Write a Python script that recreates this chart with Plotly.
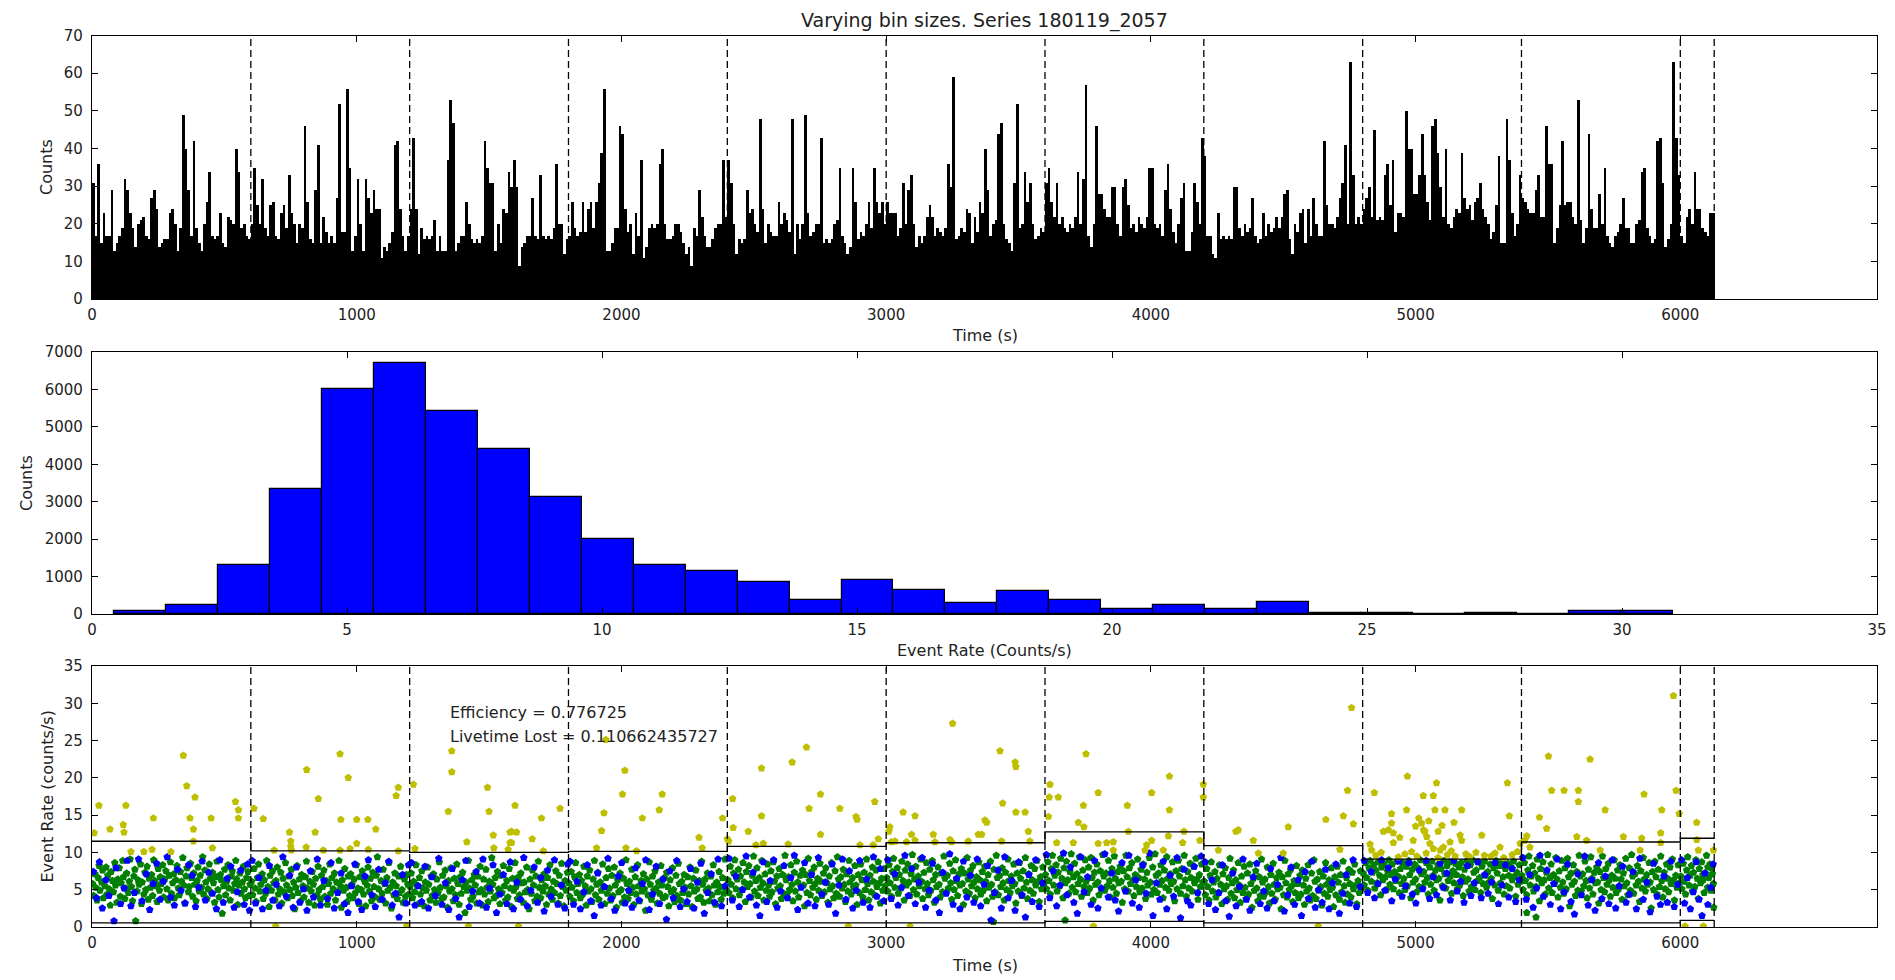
import numpy as np
import plotly.graph_objects as go

W, H = 1895, 980

# ---------------- data ----------------
title_text = "Varying bin sizes. Series 180119_2057"
top_bin_s = 10
top_counts = [
31,17,36,15,23,17,17,29,13,15,17,19,32,29,23,19,14,20,21,22,
17,16,27,29,24,14,15,16,16,23,24,20,13,19,49,40,29,17,42,19,
15,13,20,26,34,17,16,17,23,15,14,22,21,20,40,34,19,20,17,16,
20,35,25,20,32,19,17,25,26,17,16,23,25,19,33,23,20,15,20,19,
46,26,16,15,29,41,15,22,18,15,17,15,27,52,18,18,56,35,13,17,
32,20,13,32,27,23,29,24,24,11,14,13,15,18,41,42,24,17,13,17,
24,43,24,12,19,16,17,16,17,21,13,17,13,13,37,53,47,13,15,17,
17,26,20,16,15,16,15,17,42,35,31,31,13,20,15,24,23,34,30,37,
30,9,14,15,17,17,27,17,16,33,17,16,17,16,19,36,20,20,12,16,
17,26,19,17,18,26,18,24,26,19,26,31,39,56,13,13,15,19,19,46,
44,24,18,20,12,23,17,37,11,14,19,20,19,20,36,40,20,16,16,17,
20,20,18,15,12,14,9,19,17,29,22,17,14,14,16,19,20,20,37,22,
37,31,20,12,16,15,16,29,23,24,20,18,48,24,15,20,18,17,17,26,
20,23,21,18,48,12,20,16,20,49,23,17,18,20,20,43,15,16,15,16,
20,21,35,17,15,12,14,35,26,16,18,17,20,26,19,35,26,23,26,20,
26,23,23,23,17,19,31,20,29,33,20,14,17,15,17,22,25,22,17,19,
18,17,19,36,30,59,16,17,19,18,24,23,15,22,18,26,23,40,29,17,
20,21,44,47,20,16,15,13,31,52,19,20,34,26,31,20,16,17,19,18,
31,35,26,22,31,20,22,19,18,20,19,22,34,20,32,57,17,14,20,46,
28,28,24,22,22,30,30,20,17,30,32,25,19,20,18,22,20,19,22,35,
35,20,19,20,17,29,36,24,18,15,20,27,31,13,13,18,31,26,20,43,
38,17,17,12,11,23,16,17,16,17,16,30,30,19,17,20,18,19,27,17,
15,16,23,17,20,18,19,22,19,22,28,29,16,12,20,18,23,24,15,24,
17,27,20,17,17,42,25,20,20,19,22,27,31,41,20,63,33,20,22,20,
24,27,30,22,45,21,22,21,33,36,25,37,18,23,23,22,50,40,40,28,
28,33,44,33,26,21,46,48,39,30,22,40,20,19,22,24,23,39,27,24,
25,21,26,27,31,24,22,20,16,18,25,38,15,15,48,37,23,17,20,33,
27,26,24,23,23,29,33,22,22,46,36,36,15,19,25,42,25,26,26,22,
20,53,21,15,19,44,24,19,19,28,20,35,17,15,14,17,18,20,27,19,
19,15,15,20,21,34,35,19,17,15,16,42,43,31,14,16,20,63,43,33,
17,15,22,24,20,34,24,24,19,18,17,23,23]

seg_edges = [0, 600, 1200, 1800, 2400, 3000, 3600, 4200, 4800, 5400, 6000, 6128]
upper_thr = [11.5, 10.2, 10.0, 10.15, 10.8, 11.3, 12.75, 10.9, 9.1, 11.4, 11.9]
lower_thr = [0.55, 0.55, 0.55, 0.55, 0.55, 0.55, 0.75, 0.55, 0.55, 0.55, 0.9]
time_max = 6743

hist_lo, hist_width = 0.43, 1.019
hist_counts = [80, 250, 1320, 3330, 6010, 6700, 5420, 4400, 3120, 2010, 1320, 1150,
               850, 380, 900, 640, 300, 610, 364, 142, 230, 142, 310, 40, 40, 0, 40, 0, 80, 80]

eff_text = "Efficiency = 0.776725"
live_text = "Livetime Lost = 0.110662435727"

green_pts = [
(2,5.8),(6,4.2),(11,7.1),(14,5.3),(19,3.6),(23,6.6),(27,8.2),(30,4.9),(36,6.0),(40,7.6),(43,3.9),(48,5.5),(53,8.0),(57,4.4),(60,6.9),(65,5.1),(69,2.9),(72,7.4),(77,6.2),(81,4.7),(86,8.6),(89,5.6),(94,3.3),(97,6.4),(103,7.9),(107,4.1),(110,5.9),(116,8.9),(119,6.7),(124,3.8),(128,5.2),(131,7.2),(137,4.6),(141,6.1),(144,9.1),(149,5.4),(153,3.5),(158,6.8),(162,7.7),(165,0.8),(170,4.8),(174,6.3),(178,5.7),(183,8.4),(187,3.1),(190,6.0),(196,4.4),(200,7.3),(203,5.0),(208,8.1),(213,3.7),(216,6.5),(221,5.3),(225,7.0),(229,4.2),(233,9.0),(238,6.2),(241,5.5),(246,3.4),(250,7.8),(255,4.9),(258,6.7),(262,5.8),(267,8.3),(271,4.0),(275,6.4),(279,7.5),(283,5.1),(288,3.6),(292,6.9),(296,8.7),(300,4.5),(305,5.9),(309,7.1),(312,3.9),(317,6.3),(321,8.2),(326,5.2),(330,4.3),(334,7.4),(338,6.1),(343,9.3),(347,5.6),(350,3.2),(355,6.8),(359,7.9),(364,4.7),(367,5.4),(372,8.5),(376,6.6),(380,4.1),(384,7.2),(388,5.7),(393,3.5),(397,6.2),(400,8.0),(405,4.8),(409,6.9),(413,5.3),(418,9.4),(421,4.4),(426,7.6),(430,6.0),(434,3.8),(438,5.1),(443,8.4),(447,6.5),(451,4.6),(455,7.3),(459,5.9),(463,3.3),(468,6.7),(472,8.8),(476,5.0),(480,4.0),(485,7.0),(488,6.3),(492,1.8),(497,5.5),(501,7.7),(505,4.3),(509,6.1),(514,8.3),(517,5.2),(522,3.6),(526,6.8),(530,7.5),(534,4.9),(539,5.8),(543,8.9),(546,6.4),(551,3.0),(555,5.6),(559,7.2),(563,4.5),(568,6.0),(572,8.1),(576,5.1),(580,3.9),(584,6.6),(589,7.4),(593,4.2),(597,5.7),
(603,6.1),(607,4.3),(612,7.8),(616,5.2),(620,3.4),(625,6.6),(629,8.4),(634,4.8),(638,5.7),(643,7.1),(647,3.8),(651,6.3),(656,4.5),(660,8.9),(665,5.4),(669,2.7),(673,6.9),(678,4.9),(682,7.5),(687,5.9),(691,3.6),(695,6.2),(700,8.0),(704,4.4),(709,5.1),(713,7.3),(717,3.2),(722,6.5),(726,4.7),(731,8.6),(735,5.6),(740,3.9),(744,6.8),(748,5.0),(753,7.7),(757,4.2),(762,6.0),(766,2.4),(770,5.3),(775,8.2),(779,4.6),(784,6.4),(788,3.5),(792,7.0),(797,5.5),(801,4.0),(806,6.7),(810,8.8),(814,5.2),(819,3.3),(823,6.1),(828,4.8),(832,7.4),(836,5.7),(841,2.9),(845,6.5),(850,4.3),(854,8.1),(858,5.0),(863,3.7),(867,6.9),(872,5.4),(876,7.6),(880,4.1),(885,6.2),(889,3.0),(894,5.8),(898,8.4),(902,4.5),(907,6.6),(911,5.1),(916,7.2),(920,3.6),(924,6.0),(929,4.7),(933,8.9),(938,5.5),(942,2.6),(946,6.3),(951,4.9),(955,7.8),(960,5.3),(964,3.4),(968,6.8),(973,4.2),(977,7.1),(982,5.7),(986,3.9),(990,6.4),(995,4.6),(999,8.3),(1004,5.2),(1008,3.1),(1012,6.7),(1017,5.0),(1021,7.5),(1026,4.4),(1030,6.1),(1034,2.8),(1039,5.6),(1043,8.0),(1048,4.8),(1052,6.5),(1056,3.5),(1061,7.3),(1065,5.4),(1070,4.0),(1074,6.9),(1078,9.4),(1083,5.1),(1087,3.7),(1092,6.2),(1096,4.5),(1100,7.7),(1105,5.8),(1109,3.2),(1114,6.6),(1118,4.9),(1122,8.6),(1127,5.3),(1131,2.5),(1136,6.0),(1140,4.3),(1144,7.2),(1149,5.5),(1153,3.8),(1158,6.8),(1162,4.6),(1166,8.1),(1171,5.0),(1175,3.3),(1180,6.4),(1184,4.1),(1188,7.0),(1193,5.7),(1197,4.4),
(1202,5.4),(1206,7.2),(1211,3.9),(1215,6.1),(1219,4.7),(1224,8.3),(1228,5.6),(1233,3.1),(1237,6.6),(1241,4.4),(1246,7.5),(1250,5.2),(1255,2.8),(1259,6.0),(1263,4.9),(1268,8.0),(1272,5.7),(1277,3.6),(1281,6.8),(1285,4.2),(1290,7.1),(1294,5.0),(1299,3.3),(1303,6.4),(1307,4.6),(1312,8.7),(1316,5.3),(1321,3.8),(1325,6.9),(1329,4.0),(1334,7.6),(1338,5.5),(1343,2.6),(1347,6.2),(1351,4.8),(1356,7.9),(1360,5.1),(1365,3.5),(1369,6.5),(1373,4.3),(1378,8.4),(1382,5.8),(1387,3.0),(1391,6.7),(1395,4.5),(1400,7.3),(1404,5.4),(1409,1.9),(1413,6.0),(1417,4.9),(1422,8.9),(1426,5.2),(1431,3.7),(1435,6.3),(1439,4.1),(1444,7.0),(1448,5.6),(1453,3.2),(1457,6.8),(1461,4.7),(1466,8.1),(1470,5.0),(1475,2.9),(1479,6.4),(1483,4.4),(1488,7.7),(1492,5.3),(1497,3.4),(1501,6.1),(1505,4.8),(1510,9.3),(1514,5.7),(1519,3.9),(1523,6.6),(1527,4.2),(1532,7.4),(1536,5.1),(1541,3.1),(1545,6.9),(1549,4.6),(1554,8.2),(1558,5.5),(1563,3.6),(1567,6.2),(1571,4.0),(1576,7.8),(1580,5.2),(1585,2.7),(1589,6.5),(1593,4.9),(1598,8.6),(1602,5.4),(1607,3.8),(1611,6.7),(1615,4.3),(1620,7.2),(1624,5.9),(1629,3.3),(1633,6.0),(1637,4.7),(1642,8.0),(1646,5.0),(1651,2.4),(1655,6.4),(1659,4.5),(1664,7.6),(1668,5.6),(1673,3.5),(1677,6.8),(1681,4.1),(1686,8.8),(1690,5.3),(1695,3.9),(1699,6.3),(1703,4.8),(1708,7.1),(1712,5.5),(1717,3.0),(1721,6.6),(1725,4.4),(1730,8.3),(1734,5.1),(1739,3.7),(1743,6.1),(1747,4.6),(1752,7.5),(1756,5.8),(1761,3.2),(1765,6.9),(1769,4.2),(1774,8.5),(1778,5.4),(1783,2.8),(1787,6.2),(1791,4.9),(1796,7.3),
(1801,5.9),(1805,4.1),(1810,7.4),(1814,5.3),(1819,3.5),(1823,6.7),(1827,8.6),(1832,4.6),(1836,5.8),(1841,7.0),(1845,3.9),(1849,6.2),(1854,4.4),(1858,8.1),(1863,5.5),(1867,2.9),(1871,6.8),(1876,4.8),(1880,7.6),(1885,5.1),(1889,3.4),(1893,6.4),(1898,8.9),(1902,4.3),(1907,5.7),(1911,7.3),(1915,3.7),(1920,6.0),(1924,4.9),(1929,8.4),(1933,5.4),(1937,3.1),(1942,6.6),(1946,4.5),(1951,7.8),(1955,5.2),(1959,3.6),(1964,6.9),(1968,4.2),(1973,8.0),(1977,5.6),(1981,2.6),(1986,6.3),(1990,4.7),(1995,7.2),(1999,5.0),(2003,3.3),(2008,6.5),(2012,4.0),(2017,9.0),(2021,5.8),(2025,3.8),(2030,6.1),(2034,4.6),(2039,7.7),(2043,5.3),(2047,3.0),(2052,6.7),(2056,4.4),(2061,8.3),(2065,5.5),(2069,3.5),(2074,6.2),(2078,4.8),(2083,7.1),(2087,5.1),(2091,2.2),(2096,6.4),(2100,4.3),(2105,8.7),(2109,5.7),(2113,3.7),(2118,6.8),(2122,4.9),(2127,7.5),(2131,5.2),(2135,3.2),(2140,6.0),(2144,4.5),(2149,8.2),(2153,5.6),(2157,3.9),(2162,6.6),(2166,4.1),(2171,7.3),(2175,5.4),(2179,2.8),(2184,6.3),(2188,4.7),(2193,7.9),(2197,5.0),(2201,3.4),(2206,6.9),(2210,4.2),(2215,8.5),(2219,5.8),(2223,3.6),(2228,6.1),(2232,4.6),(2237,7.0),(2241,5.3),(2245,3.1),(2250,6.7),(2254,4.4),(2259,8.0),(2263,5.5),(2267,2.7),(2272,6.5),(2276,4.8),(2281,7.6),(2285,5.1),(2289,3.8),(2294,6.2),(2298,4.0),(2303,8.8),(2307,5.7),(2311,3.3),(2316,6.4),(2320,4.9),(2325,7.2),(2329,5.2),(2333,3.5),(2338,6.8),(2342,4.3),(2347,8.3),(2351,5.6),(2355,3.0),(2360,6.0),(2364,4.7),(2369,7.4),(2373,5.4),(2377,3.7),(2382,6.6),(2386,4.5),(2391,9.1),(2395,5.0),
(2402,6.3),(2406,4.6),(2411,8.1),(2415,5.7),(2420,3.9),(2424,7.2),(2428,9.0),(2433,5.1),(2437,6.4),(2442,7.7),(2446,4.3),(2450,6.8),(2455,5.0),(2459,8.6),(2464,6.0),(2468,3.4),(2472,7.4),(2477,5.4),(2481,8.2),(2486,5.8),(2490,4.0),(2494,6.9),(2499,9.5),(2503,4.8),(2508,6.2),(2512,7.9),(2516,4.2),(2521,6.6),(2525,5.3),(2530,8.9),(2534,5.9),(2538,3.6),(2543,7.1),(2547,4.9),(2552,8.4),(2556,5.6),(2560,4.1),(2565,7.5),(2569,4.7),(2574,8.7),(2578,6.1),(2582,3.1),(2587,6.8),(2591,5.2),(2596,7.8),(2600,5.5),(2604,3.8),(2609,7.0),(2613,4.5),(2618,9.6),(2622,6.3),(2626,4.4),(2631,6.7),(2635,5.0),(2640,8.3),(2644,5.7),(2648,3.5),(2653,7.3),(2657,4.8),(2662,8.8),(2666,6.0),(2670,4.0),(2675,6.9),(2679,5.4),(2684,7.6),(2688,5.6),(2692,2.8),(2697,7.0),(2701,4.6),(2706,9.2),(2710,6.2),(2714,4.3),(2719,7.4),(2723,5.3),(2728,8.0),(2732,5.8),(2736,3.7),(2741,6.5),(2745,4.9),(2750,8.5),(2754,6.1),(2758,4.2),(2763,7.2),(2767,4.7),(2772,7.9),(2776,5.9),(2780,3.3),(2785,6.8),(2789,5.1),(2794,8.6),(2798,5.5),(2802,3.9),(2807,7.5),(2811,4.5),(2816,9.4),(2820,6.4),(2824,4.1),(2829,6.7),(2833,5.2),(2838,7.7),(2842,5.7),(2846,3.4),(2851,7.1),(2855,4.8),(2860,8.9),(2864,6.0),(2868,4.4),(2873,6.6),(2877,5.3),(2882,8.2),(2886,5.6),(2890,3.0),(2895,7.0),(2899,4.6),(2904,8.4),(2908,6.3),(2912,4.0),(2917,7.3),(2921,5.0),(2926,9.1),(2930,5.8),(2934,3.6),(2939,6.9),(2943,4.7),(2948,8.0),(2952,6.1),(2956,4.3),(2961,7.6),(2965,5.4),(2970,8.7),(2974,5.9),(2978,3.2),(2983,6.5),(2987,4.9),(2992,7.8),(2996,5.5),
(3002,6.6),(3006,4.8),(3011,8.3),(3015,5.9),(3020,4.1),(3024,7.4),(3028,9.2),(3033,5.3),(3037,6.6),(3042,7.9),(3046,4.5),(3050,7.0),(3055,5.2),(3059,8.8),(3064,6.2),(3068,3.6),(3072,7.6),(3077,5.6),(3081,8.4),(3086,6.0),(3090,4.2),(3094,7.1),(3099,9.7),(3103,5.0),(3108,6.4),(3112,8.1),(3116,4.4),(3121,6.8),(3125,5.5),(3130,9.1),(3134,6.1),(3138,3.8),(3143,7.3),(3147,5.1),(3152,8.6),(3156,5.8),(3160,4.3),(3165,7.7),(3169,4.9),(3174,8.9),(3178,6.3),(3182,3.3),(3187,7.0),(3191,5.4),(3196,8.0),(3200,5.7),(3204,4.0),(3209,7.2),(3213,4.7),(3218,9.5),(3222,6.5),(3226,4.6),(3231,6.9),(3235,5.2),(3240,8.5),(3244,5.9),(3248,3.7),(3253,7.5),(3257,5.0),(3262,9.0),(3266,6.2),(3270,4.2),(3275,7.1),(3279,5.6),(3284,7.8),(3288,5.8),(3292,3.0),(3297,7.2),(3301,4.8),(3306,9.3),(3310,6.4),(3314,4.5),(3319,7.6),(3323,5.5),(3328,8.2),(3332,6.0),(3336,3.9),(3341,6.7),(3345,5.1),(3350,8.7),(3354,6.3),(3358,4.4),(3363,7.4),(3367,4.9),(3372,8.1),(3376,6.1),(3380,3.5),(3385,7.0),(3389,5.3),(3394,8.8),(3398,5.7),(3402,4.1),(3405,0.7),(3407,7.7),(3411,4.7),(3416,9.6),(3420,6.6),(3424,4.3),(3429,6.9),(3433,5.4),(3438,7.9),(3442,5.9),(3446,3.6),(3451,7.3),(3455,5.0),(3460,9.1),(3464,6.2),(3468,4.6),(3473,6.8),(3477,5.5),(3482,8.4),(3486,5.8),(3490,3.2),(3495,7.2),(3499,4.8),(3504,8.6),(3508,6.5),(3512,4.2),(3517,7.5),(3521,5.2),(3526,9.3),(3530,6.0),(3534,3.8),(3539,7.1),(3543,4.9),(3548,8.2),(3552,6.3),(3556,4.5),(3561,7.8),(3565,5.6),(3570,8.9),(3574,6.1),(3578,3.4),(3583,6.7),(3587,5.1),(3592,8.0),(3596,5.7),
(3602,7.0),(3606,5.1),(3611,8.7),(3615,6.2),(3620,4.4),(3624,7.8),(3628,9.6),(3633,5.6),(3637,6.9),(3642,8.3),(3646,4.8),(3650,7.3),(3655,5.5),(3659,9.2),(3664,6.5),(3668,3.9),(3672,7.9),(3676,0.9),(3677,5.9),(3681,8.8),(3686,6.3),(3690,4.5),(3694,7.4),(3699,9.8),(3703,5.3),(3708,6.7),(3712,8.5),(3716,4.7),(3721,7.1),(3725,5.8),(3730,9.4),(3734,6.4),(3738,4.1),(3743,7.6),(3747,5.4),(3752,9.0),(3756,6.1),(3760,4.6),(3765,8.0),(3769,5.2),(3774,9.3),(3778,6.6),(3782,3.6),(3787,7.3),(3791,5.7),(3796,8.4),(3800,6.0),(3804,4.3),(3809,7.5),(3813,5.0),(3818,9.7),(3822,6.8),(3826,4.9),(3831,7.2),(3835,5.5),(3840,8.9),(3844,6.2),(3848,4.0),(3853,7.8),(3857,5.3),(3862,9.5),(3866,6.5),(3870,4.5),(3875,7.4),(3879,5.9),(3884,8.1),(3888,6.1),(3892,3.3),(3897,7.5),(3901,5.1),(3906,9.6),(3910,6.7),(3914,4.8),(3919,7.9),(3923,5.8),(3928,8.6),(3932,6.3),(3936,4.2),(3941,7.0),(3945,5.4),(3950,9.1),(3954,6.6),(3958,4.7),(3963,7.7),(3967,5.2),(3972,8.4),(3976,6.4),(3980,3.8),(3985,7.3),(3989,5.6),(3994,9.3),(3998,6.0),(4002,4.4),(4007,8.0),(4011,5.0),(4016,9.8),(4020,6.9),(4024,4.6),(4029,7.2),(4033,5.7),(4038,8.3),(4042,6.2),(4046,3.9),(4051,7.6),(4055,5.3),(4060,9.4),(4064,6.5),(4068,4.9),(4073,7.1),(4077,5.8),(4082,8.7),(4086,6.1),(4090,3.5),(4095,7.5),(4099,5.1),(4104,8.9),(4108,6.8),(4112,4.5),(4117,7.8),(4121,5.5),(4126,9.6),(4130,6.3),(4134,4.1),(4139,7.4),(4143,5.2),(4148,8.5),(4152,6.6),(4156,4.8),(4161,8.1),(4165,5.9),(4170,9.2),(4174,6.4),(4178,3.7),(4183,7.0),(4187,5.4),(4192,8.4),(4196,6.0),
(4202,6.1),(4206,4.3),(4211,7.8),(4215,5.4),(4220,3.6),(4224,6.9),(4228,8.7),(4233,4.8),(4237,6.0),(4242,7.4),(4246,4.0),(4250,6.5),(4255,4.6),(4259,8.3),(4264,5.7),(4268,3.1),(4272,7.1),(4277,5.1),(4281,7.9),(4286,5.5),(4290,3.7),(4294,6.6),(4299,9.2),(4303,4.5),(4308,5.9),(4312,7.6),(4316,3.9),(4321,6.3),(4325,5.0),(4330,8.6),(4334,5.6),(4338,3.3),(4343,6.8),(4347,4.6),(4352,8.1),(4356,5.3),(4360,3.8),(4365,7.2),(4369,4.4),(4374,8.4),(4378,5.8),(4382,2.6),(4387,6.5),(4391,4.9),(4396,7.5),(4400,5.2),(4404,3.5),(4409,6.7),(4413,4.2),(4418,9.1),(4422,6.0),(4426,4.1),(4431,6.4),(4435,4.7),(4440,8.0),(4444,5.4),(4448,3.2),(4453,7.0),(4457,4.5),(4462,8.5),(4466,5.7),(4470,3.7),(4475,6.6),(4479,5.1),(4484,7.3),(4488,5.3),(4492,2.4),(4497,6.7),(4501,4.3),(4506,8.9),(4510,5.9),(4514,4.0),(4519,7.1),(4523,5.0),(4528,7.7),(4532,5.5),(4536,3.4),(4541,6.2),(4545,4.6),(4550,8.2),(4554,5.8),(4558,3.9),(4563,6.9),(4567,4.4),(4572,7.6),(4576,5.6),(4580,3.0),(4585,6.5),(4589,4.8),(4594,8.3),(4598,5.2),(4602,3.6),(4607,7.2),(4611,4.2),(4616,9.0),(4620,6.1),(4624,3.8),(4629,6.4),(4633,4.9),(4638,7.4),(4642,5.4),(4646,2.9),(4651,6.8),(4655,4.5),(4660,8.6),(4664,5.7),(4668,4.1),(4673,6.3),(4677,5.0),(4682,7.9),(4686,5.3),(4690,2.7),(4695,6.7),(4699,4.3),(4704,8.1),(4708,6.0),(4712,3.7),(4717,7.0),(4721,4.7),(4726,8.8),(4730,5.5),(4734,3.3),(4739,6.6),(4743,4.4),(4748,7.7),(4752,5.8),(4756,4.0),(4761,7.3),(4765,5.1),(4770,8.4),(4774,5.6),(4778,3.1),(4783,6.2),(4787,4.6),(4792,7.5),(4796,5.2),
(4802,7.2),(4806,5.6),(4811,8.6),(4815,6.6),(4820,4.9),(4824,7.9),(4828,8.9),(4833,6.1),(4837,7.3),(4842,8.3),(4846,5.2),(4850,7.6),(4855,5.9),(4859,8.7),(4864,6.9),(4868,4.3),(4872,8.0),(4877,6.3),(4881,8.5),(4886,6.7),(4890,5.0),(4894,7.5),(4899,9.0),(4903,5.7),(4908,7.0),(4912,8.4),(4916,5.1),(4921,7.4),(4925,6.2),(4930,8.8),(4934,6.8),(4938,4.6),(4943,7.8),(4947,5.8),(4952,8.6),(4956,6.5),(4960,5.0),(4965,8.1),(4969,5.5),(4974,8.9),(4978,7.0),(4982,3.9),(4987,7.7),(4991,6.0),(4996,8.4),(5000,6.4),(5004,4.7),(5009,7.9),(5013,5.4),(5018,9.0),(5022,7.1),(5026,5.3),(5031,7.4),(5035,6.0),(5040,8.6),(5044,6.6),(5048,4.4),(5053,8.0),(5057,5.7),(5062,8.8),(5066,6.9),(5070,4.9),(5075,7.6),(5079,6.3),(5084,8.3),(5088,6.5),(5092,3.6),(5097,7.8),(5101,5.5),(5106,8.9),(5110,7.1),(5114,5.2),(5119,8.2),(5123,6.2),(5128,8.7),(5132,6.8),(5136,4.5),(5141,7.5),(5145,5.9),(5150,8.5),(5154,7.0),(5158,5.1),(5163,8.0),(5167,5.6),(5172,8.6),(5176,6.7),(5180,4.2),(5185,7.7),(5189,6.1),(5194,8.9),(5198,6.4),(5202,4.8),(5207,8.3),(5211,5.4),(5216,9.0),(5220,7.3),(5224,5.0),(5229,7.6),(5233,6.2),(5238,8.7),(5242,6.6),(5246,4.6),(5251,8.1),(5255,5.8),(5260,8.8),(5264,6.9),(5268,5.3),(5273,7.4),(5277,6.0),(5282,8.4),(5286,6.5),(5290,3.8),(5295,7.9),(5299,5.6),(5304,8.9),(5308,7.2),(5312,4.9),(5317,8.2),(5321,5.9),(5326,8.6),(5330,6.7),(5334,4.4),(5339,7.8),(5343,5.5),(5348,8.5),(5352,6.9),(5356,5.2),(5361,8.0),(5365,6.3),(5370,8.8),(5374,6.8),(5378,4.1),(5383,7.3),(5387,5.7),(5392,8.3),(5396,6.1),
(5402,6.9),(5406,5.0),(5411,8.6),(5415,6.2),(5420,4.3),(5420,1.9),(5424,7.6),(5428,9.5),(5433,5.6),(5437,6.8),(5442,8.2),(5446,4.8),(5450,7.2),(5455,5.4),(5455,1.3),(5459,9.1),(5464,6.5),(5468,3.5),(5472,7.8),(5477,5.9),(5481,8.7),(5486,6.3),(5490,4.4),(5494,7.3),(5499,9.7),(5503,5.2),(5508,6.6),(5512,8.4),(5516,4.6),(5521,7.0),(5525,5.8),(5530,9.3),(5534,6.4),(5538,4.0),(5543,7.5),(5547,5.3),(5552,8.9),(5556,6.0),(5560,4.5),(5565,7.9),(5569,5.1),(5574,9.2),(5578,6.7),(5582,2.8),(5587,7.2),(5591,5.7),(5596,8.3),(5600,6.1),(5604,4.2),(5609,7.4),(5613,4.9),(5618,9.6),(5622,6.8),(5626,4.8),(5631,7.1),(5635,5.5),(5640,8.8),(5644,6.2),(5648,3.9),(5653,7.7),(5657,5.2),(5662,9.4),(5666,6.5),(5670,4.4),(5675,7.3),(5679,5.9),(5684,8.0),(5688,6.0),(5692,3.2),(5697,7.4),(5701,5.0),(5706,9.5),(5710,6.6),(5714,4.7),(5719,7.8),(5723,5.7),(5728,8.5),(5732,6.3),(5736,4.1),(5741,6.9),(5745,5.3),(5750,9.0),(5754,6.5),(5758,4.6),(5763,7.6),(5767,5.1),(5772,8.3),(5776,6.4),(5780,3.7),(5785,7.2),(5789,5.5),(5794,9.2),(5798,5.9),(5802,4.3),(5807,7.9),(5811,4.9),(5816,9.7),(5820,6.8),(5824,4.5),(5829,7.1),(5833,5.6),(5838,8.2),(5842,6.1),(5846,3.4),(5851,7.5),(5855,5.2),(5860,9.3),(5864,6.4),(5868,4.8),(5873,7.0),(5877,5.7),(5882,8.6),(5886,6.0),(5890,2.5),(5895,7.4),(5899,5.0),(5904,8.8),(5908,6.7),(5912,4.4),(5917,7.7),(5921,5.4),(5926,9.5),(5930,6.2),(5934,4.0),(5939,7.3),(5943,5.1),(5948,8.4),(5952,6.5),(5956,4.7),(5961,8.0),(5965,5.8),(5970,9.1),(5974,6.3),(5978,3.6),(5983,6.9),(5987,5.3),(5992,8.3),(5996,5.9),
(6002,6.8),(6006,5.1),(6011,8.5),(6015,6.1),(6020,4.4),(6024,7.6),(6028,9.4),(6033,5.6),(6037,6.9),(6042,8.2),(6046,4.8),(6050,7.3),(6055,5.4),(6059,9.0),(6064,6.5),(6068,3.8),(6072,7.8),(6077,5.9),(6081,8.7),(6085,7.0),(6086,6.3),(6090,4.6),(6094,7.2),(6099,9.6),(6103,5.3),(6104,8.0),(6108,6.6),(6112,8.4),(6116,4.9),(6118,7.9),(6121,7.1),(6125,5.8),(6126,2.6)]

blue_pts = [
(5,7.4),(17,3.9),(28,8.7),(39,2.5),(52,6.3),(64,4.2),(83,0.8),(91,7.9),(108,3.1),(121,5.2),(133,8.9),(147,2.8),(160,4.6),(176,9.1),(189,3.5),(205,7.1),(218,2.3),(231,5.8),(244,8.5),(257,3.7),(269,6.1),(284,9.4),(297,4.0),(311,2.9),(323,7.7),(336,4.9),(352,3.2),(365,8.3),(378,6.9),(391,2.7),(403,5.3),(416,8.8),(428,3.6),(441,7.3),(455,4.5),(470,2.4),(483,9.0),(496,3.3),(511,6.5),(524,8.1),(537,2.6),(549,4.7),(562,7.6),(575,3.0),(588,8.4),(595,2.2),
(605,8.9),(618,3.2),(631,6.6),(644,2.4),(657,4.9),(670,8.2),(683,3.6),(696,5.7),(708,2.8),(721,9.4),(734,4.1),(747,6.9),(760,2.6),(772,8.0),(785,3.3),(799,5.1),(812,2.2),(825,7.5),(837,4.0),(851,9.1),(863,2.9),(876,6.2),(890,3.8),(903,8.6),(915,2.5),(928,4.6),(941,7.2),(954,3.1),(967,1.9),(980,5.5),(993,8.4),(1006,3.4),(1019,2.3),(1031,6.8),(1044,9.0),(1057,4.3),(1070,2.7),(1083,7.7),(1096,3.7),(1108,5.9),(1121,8.8),(1134,2.9),(1147,4.5),(1160,1.3),(1173,7.0),(1186,3.2),(1196,8.3),
(1207,8.6),(1220,2.9),(1232,5.5),(1245,3.4),(1258,8.1),(1271,2.5),(1284,6.7),(1297,4.2),(1310,9.2),(1322,3.0),(1335,5.9),(1348,2.3),(1361,7.8),(1374,3.8),(1387,1.3),(1399,6.3),(1412,8.9),(1425,2.7),(1438,4.8),(1451,7.4),(1464,3.2),(1477,9.1),(1490,2.6),(1502,5.2),(1515,8.3),(1528,1.9),(1541,4.4),(1554,7.0),(1567,3.1),(1580,8.7),(1592,2.4),(1605,6.0),(1618,3.7),(1631,9.3),(1644,2.8),(1657,4.9),(1670,8.0),(1683,3.3),(1695,6.6),(1708,2.1),(1721,7.6),(1734,4.1),(1747,9.0),(1760,3.0),(1773,5.6),(1786,2.5),(1797,8.4),
(1806,8.8),(1819,3.0),(1832,6.1),(1845,2.4),(1858,4.7),(1871,8.3),(1884,3.5),(1897,1.5),(1910,7.2),(1923,2.9),(1936,5.4),(1949,9.2),(1962,3.8),(1975,2.2),(1988,6.8),(2001,8.6),(2014,3.2),(2027,4.9),(2040,2.6),(2053,7.9),(2066,3.6),(2079,5.8),(2092,9.0),(2105,2.3),(2118,4.4),(2131,8.1),(2144,3.1),(2157,6.4),(2170,1.0),(2183,7.5),(2196,3.9),(2209,8.9),(2222,2.7),(2235,5.1),(2248,3.4),(2261,7.8),(2274,2.5),(2287,6.0),(2300,8.5),(2313,1.8),(2326,4.6),(2339,7.1),(2352,3.3),(2365,9.1),(2378,2.8),(2392,5.5),
(2406,9.2),(2419,3.6),(2432,6.8),(2445,2.7),(2458,5.0),(2471,9.5),(2484,4.0),(2497,7.3),(2510,2.9),(2523,1.5),(2536,8.7),(2549,3.4),(2562,6.2),(2575,9.0),(2588,2.6),(2601,4.8),(2614,8.2),(2627,3.9),(2640,6.6),(2653,9.6),(2666,2.3),(2679,5.3),(2692,8.6),(2705,3.2),(2718,7.0),(2731,2.8),(2744,9.3),(2757,4.4),(2770,6.0),(2783,3.0),(2796,8.4),(2809,1.8),(2822,5.6),(2835,9.1),(2848,3.7),(2861,7.5),(2874,2.5),(2887,4.9),(2900,8.9),(2913,3.3),(2926,6.4),(2939,2.6),(2952,9.4),(2965,4.1),(2978,7.8),(2991,3.5),
(3006,9.0),(3019,3.8),(3032,7.1),(3045,2.9),(3058,5.3),(3071,9.6),(3084,4.2),(3097,7.8),(3110,3.1),(3123,6.0),(3136,9.3),(3149,2.6),(3162,4.9),(3175,8.5),(3188,3.6),(3201,1.9),(3214,7.3),(3227,4.5),(3240,9.8),(3253,3.0),(3266,6.5),(3279,2.4),(3292,8.8),(3305,4.0),(3318,6.9),(3331,3.3),(3344,9.1),(3357,2.8),(3370,5.7),(3383,8.2),(3396,0.9),(3409,4.6),(3422,7.6),(3435,2.5),(3448,9.4),(3461,3.9),(3474,6.2),(3487,2.2),(3500,8.7),(3513,4.3),(3526,1.3),(3539,7.0),(3552,3.4),(3565,9.0),(3578,2.7),(3591,5.9),
(3605,9.7),(3618,3.9),(3631,7.5),(3644,2.8),(3657,5.6),(3670,9.9),(3683,4.3),(3696,8.0),(3709,3.3),(3722,1.8),(3735,9.4),(3748,4.7),(3761,6.7),(3774,3.0),(3787,8.9),(3800,2.5),(3813,5.2),(3826,9.8),(3839,4.0),(3852,7.2),(3865,3.6),(3878,2.1),(3891,8.6),(3904,4.8),(3917,9.6),(3930,3.2),(3943,6.3),(3956,2.6),(3969,8.3),(3982,4.5),(3995,9.9),(4008,1.5),(4021,5.9),(4034,3.7),(4047,8.8),(4060,2.4),(4073,6.9),(4086,4.1),(4099,9.3),(4112,1.2),(4125,7.7),(4138,3.5),(4151,2.9),(4164,8.1),(4177,4.6),(4190,9.5),
(4205,8.7),(4218,3.1),(4231,6.3),(4244,2.3),(4257,4.6),(4270,8.3),(4283,3.5),(4296,1.4),(4309,7.2),(4322,2.8),(4335,5.4),(4348,9.1),(4361,3.7),(4374,2.2),(4387,6.7),(4400,8.5),(4413,3.1),(4426,4.8),(4439,2.5),(4452,7.8),(4465,3.5),(4478,5.7),(4491,9.3),(4504,2.1),(4517,4.3),(4530,8.0),(4543,3.0),(4556,6.3),(4569,1.5),(4582,7.4),(4595,3.8),(4608,8.8),(4621,2.6),(4634,5.0),(4647,3.3),(4660,7.7),(4673,2.4),(4686,5.9),(4699,8.4),(4712,1.8),(4725,4.5),(4738,7.0),(4751,3.2),(4764,9.0),(4777,2.7),(4791,5.4),
(4806,8.9),(4819,4.6),(4832,7.4),(4845,3.9),(4858,5.8),(4871,9.0),(4884,4.9),(4897,7.9),(4910,3.5),(4923,6.4),(4936,8.8),(4949,4.1),(4962,5.5),(4975,8.6),(4988,4.4),(5001,3.2),(5014,7.6),(5027,5.1),(5040,8.9),(5053,3.8),(5066,6.7),(5079,4.3),(5092,8.5),(5105,5.3),(5118,7.2),(5131,3.6),(5144,8.9),(5157,4.8),(5170,6.1),(5183,3.3),(5196,8.2),(5209,4.2),(5222,5.9),(5235,8.7),(5248,3.9),(5261,7.0),(5274,4.5),(5287,6.0),(5300,8.6),(5313,3.1),(5326,5.6),(5339,8.3),(5352,4.0),(5365,7.8),(5378,3.4),(5391,6.3),
(5405,9.3),(5418,3.7),(5431,7.0),(5444,2.6),(5457,5.2),(5470,9.6),(5483,4.1),(5496,7.6),(5509,3.0),(5522,5.8),(5535,9.1),(5548,2.4),(5561,4.7),(5574,8.4),(5587,3.4),(5600,1.7),(5613,7.1),(5626,4.3),(5639,9.5),(5652,2.9),(5665,6.3),(5678,2.2),(5691,8.6),(5704,3.8),(5717,6.8),(5730,3.1),(5743,9.0),(5756,2.5),(5769,5.5),(5782,8.1),(5795,3.3),(5808,4.4),(5821,7.4),(5834,2.4),(5847,9.2),(5860,3.7),(5873,6.0),(5886,2.0),(5899,8.5),(5912,4.1),(5925,3.0),(5938,6.8),(5951,3.3),(5964,8.8),(5977,2.7),(5990,5.7),
(6005,9.0),(6016,3.2),(6027,6.6),(6038,2.4),(6049,4.7),(6060,8.7),(6071,3.7),(6082,1.5),(6093,7.2),(6104,3.0),(6115,5.3),(6124,8.4)]

yellow_pts = [
(8,12.6),(26,16.3),(68,13.1),(118,13.7),(121,12.7),(128,16.3),(147,10.1),(196,10.1),(227,10.4),(232,14.6),(298,10.1),(345,23.0),(358,18.9),(370,14.6),(383,13.1),(389,17.4),(383,11.5),(450,14.6),(455,10.6),(542,16.8),(553,15.7),(553,14.6),
(612,15.9),(647,14.5),(688,10.3),(694,0.1),(746,12.7),(751,11.5),(751,10.8),(753,10.3),(811,21.1),(809,10.7),(843,12.7),(855,17.2),(874,10.3),(937,23.2),(940,14.4),(937,10.3),(968,20.0),(975,10.5),(1000,14.4),(1000,11.2),(1042,14.4),(1044,10.4),(1072,13.1),(1149,17.6),(1157,18.7),(1157,10.2),(1189,0.1),
(1214,19.1),(1220,10.5),(1346,15.5),(1359,23.6),(1359,20.8),(1416,11.4),(1422,0.1),(1494,18.7),(1500,15.5),(1516,12.3),(1518,10.6),(1579,12.7),(1579,11.3),(1598,16.3),(1604,12.7),(1611,0.1),(1572,10.4),(1585,12.8),(1585,11.3),(1663,11.8),(1698,14.6),(1705,10.2),(1768,15.9),
(1906,10.6),(1925,12.9),(1934,15.3),(1941,25.1),(2004,17.8),(2013,21.0),(2017,10.6),(2057,10.2),(2079,14.6),(2143,15.7),(2154,17.8),(2293,12.0),(2305,10.6),(2382,14.6),
(2400,11.8),(2405,11.5),(2420,17.2),(2422,13.3),(2479,12.8),(2508,11.0),(2529,21.3),(2529,14.9),(2536,11.2),(2630,11.1),(2645,22.1),(2699,24.1),(2709,15.9),(2752,17.8),(2752,12.4),(2825,15.9),(2857,0.1),(2886,14.8),(2890,14.4),(2901,11.0),(2957,16.8),(2970,11.8),(2951,11.0),
(3014,13.4),(3010,12.8),(3033,11.5),(3020,11.4),(3064,15.4),(3077,11.4),(3090,0.1),(3096,12.4),(3109,14.9),(3109,11.6),(3178,12.4),(3184,11.4),(3241,11.7),(3251,27.3),(3247,11.4),(3310,11.5),(3348,12.4),(3361,12.4),(3373,14.3),(3380,14.0),(3430,23.6),(3440,16.6),(3436,11.5),(3487,22.1),(3490,21.5),(3490,15.4),(3525,15.4),(3537,12.8),(3543,11.5),
(3619,19.1),(3616,17.4),(3613,14.8),(3650,17.4),(3644,11.3),(3707,11.3),(3726,14.0),(3747,13.4),(3755,23.2),(3745,16.3),(3783,0.1),(3801,18.0),(3801,11.2),(3833,11.3),(3858,11.4),(3858,10.3),(3911,16.3),(3915,12.8),(3978,10.3),(3984,11.0),(4003,18.0),(4003,11.6),(4047,10.3),(4066,12.2),(4070,20.2),(4070,15.7),(4120,11.3),(4125,12.8),(4185,11.6),(4198,19.1),(4198,17.4),
(4255,10.3),(4321,12.8),(4330,13.0),(4387,11.6),(4406,9.9),(4500,9.9),(4519,13.4),(4632,0.1),(4661,14.4),(4714,10.4),(4727,14.9),(4743,18.3),(4758,29.4),(4765,13.8),
(4828,11.1),(4834,10.3),(4844,18.0),(4878,12.8),(4897,13.0),(4909,13.9),(4916,12.6),(4909,15.2),(4916,11.3),(4966,15.7),(4969,20.2),(4991,11.6),(5029,17.6),(5067,17.6),(5023,13.9),(5035,12.8),(5042,12.1),(5054,11.2),(5079,19.3),(5073,15.7),(5067,10.5),(5111,15.7),(5030,13.0),(5093,10.3),(5105,10.7),(5174,15.7),(5168,12.3),(5174,11.6),(5250,12.3),(5319,10.7),(5347,19.3),(5354,14.9),(5395,11.2),
(4850,9.6),(4870,10.0),(4935,9.4),(4960,9.8),(4985,10.1),(5005,9.5),(5040,9.9),(5085,9.3),(5120,9.7),(5135,10.2),(5150,9.5),(5190,9.8),(5205,9.4),(5228,10.0),(5260,9.6),(5285,9.5),(5300,9.9),(5333,9.3),(5365,9.7),(5385,10.1),
(4940,12.0),(5000,13.5),(5012,14.6),(5050,14.2),(5085,12.8),(5100,13.6),(5130,11.4),(5145,14.0),
(5412,11.6),(5420,12.2),(5432,10.7),(5468,14.7),(5495,13.2),(5502,22.9),(5514,18.3),(5561,18.3),(5615,18.3),(5615,16.8),(5609,12.1),(5646,11.6),(5659,22.5),(5697,10.3),(5716,15.7),(5785,12.1),(5848,10.3),(5854,11.9),(5863,17.8),(5926,12.6),(5930,15.7),(5926,11.3),(5974,31.0),(5984,18.3),(5996,15.2),
(6018,0.1),(6062,14.0),(6062,11.7),(6068,10.3),(6087,0.1),(6125,10.3)]

# ---------------- geometry (pixels of the 1895x980 page) ----------------
def px_x(p):
    return p / W

def px_y(p):
    return 1 - p / H

XD = [px_x(92), px_x(1877)]
TOP_Y = [px_y(299), px_y(35.5)]
MID_Y = [px_y(614), px_y(352)]
BOT_Y = [px_y(927), px_y(666)]

FONT = "DejaVu Sans"
TXT = "#222222"
tickfont = dict(family=FONT, size=15, color=TXT)


def axis(domain, anchor, rng, dtick, is_x):
    return dict(domain=domain, anchor=anchor, range=rng, dtick=dtick, tick0=0,
                showline=True, linecolor="black", linewidth=1.2, mirror="allticks",
                ticks="inside", ticklen=6, tickcolor="black", tickwidth=1,
                showgrid=False, zeroline=False, tickfont=tickfont, fixedrange=True,
                automargin=False, ticklabelstandoff=(2 if is_x else 5))


fig = go.Figure()

# top: counts vs time
top_t = [i * top_bin_s + top_bin_s / 2 for i in range(len(top_counts))]
fig.add_trace(go.Bar(x=top_t, y=top_counts, width=top_bin_s, xaxis="x", yaxis="y",
                     marker=dict(color="black", line=dict(width=0)), hoverinfo="skip"))

# middle: histogram of event rate
edges = hist_lo + hist_width * np.arange(len(hist_counts) + 1)
centers = (edges[:-1] + edges[1:]) / 2
fig.add_trace(go.Bar(x=centers, y=hist_counts, width=hist_width, xaxis="x2", yaxis="y2",
                     marker=dict(color="#0000ff", line=dict(color="black", width=1.2)),
                     hoverinfo="skip"))

# bottom: event rate scatter
def add_pts(pts, color):
    xs = [p[0] for p in pts]
    ys = [p[1] for p in pts]
    fig.add_trace(go.Scatter(x=xs, y=ys, mode="markers", xaxis="x3", yaxis="y3",
                             cliponaxis=True,
                             marker=dict(symbol="pentagon", size=8, color=color,
                                         line=dict(width=0)), hoverinfo="skip"))

add_pts(green_pts, "#007f00")
add_pts(blue_pts, "#0000ff")
add_pts(yellow_pts, "#bfbf00")

for thr in (upper_thr, lower_thr):
    fig.add_trace(go.Scatter(x=seg_edges, y=thr + [thr[-1]], mode="lines", line_shape="hv",
                             xaxis="x3", yaxis="y3",
                             line=dict(color="black", width=1.3), hoverinfo="skip"))

# dashed segment boundaries
shapes = []
for e in seg_edges[1:]:
    for xr, yr in (("x", "y domain"), ("x3", "y3 domain")):
        shapes.append(dict(type="line", xref=xr, yref=yr, x0=e, x1=e, y0=0, y1=1,
                           line=dict(color="black", width=1.3, dash="7px,4px")))

ann_font = dict(family=FONT, size=16, color=TXT)
annotations = [
    dict(text=title_text, x=px_x(984.5), y=px_y(20.5), xref="paper", yref="paper",
         showarrow=False, font=dict(family=FONT, size=19, color=TXT),
         xanchor="center", yanchor="middle"),
    dict(text="Time (s)", x=px_x(984.5), y=px_y(335), xref="paper", yref="paper",
         showarrow=False, font=ann_font, xanchor="center", yanchor="middle"),
    dict(text="Counts", x=px_x(47), y=px_y(167), xref="paper", yref="paper",
         showarrow=False, font=ann_font, textangle=-90, xanchor="center", yanchor="middle"),
    dict(text="Counts", x=px_x(26), y=px_y(483), xref="paper", yref="paper",
         showarrow=False, font=ann_font, textangle=-90, xanchor="center", yanchor="middle"),
    dict(text="Event Rate (Counts/s)", x=px_x(984.5), y=px_y(650), xref="paper", yref="paper",
         showarrow=False, font=ann_font, xanchor="center", yanchor="middle"),
    dict(text="Event Rate (counts/s)", x=px_x(47), y=px_y(796.5), xref="paper", yref="paper",
         showarrow=False, font=ann_font, textangle=-90, xanchor="center", yanchor="middle"),
    dict(text="Time (s)", x=px_x(984.5), y=px_y(965), xref="paper", yref="paper",
         showarrow=False, font=ann_font, xanchor="center", yanchor="middle"),
    dict(text=eff_text, x=1345, y=28.8, xref="x3", yref="y3", showarrow=False,
         font=dict(family=FONT, size=16, color=TXT), xanchor="left", yanchor="middle"),
    dict(text=live_text, x=1345, y=25.6, xref="x3", yref="y3", showarrow=False,
         font=dict(family=FONT, size=16, color=TXT), xanchor="left", yanchor="middle"),
]

fig.update_layout(
    template="none",
    width=W, height=H, margin=dict(l=0, r=0, t=0, b=0, pad=0, autoexpand=False),
    paper_bgcolor="white", plot_bgcolor="white", showlegend=False,
    bargap=0,
    xaxis=axis(XD, "y", [0, time_max], 1000, True),
    yaxis=axis(TOP_Y, "x", [0, 70], 10, False),
    xaxis2=axis(XD, "y2", [0, 35], 5, True),
    yaxis2=axis(MID_Y, "x2", [0, 7000], 1000, False),
    xaxis3=axis(XD, "y3", [0, time_max], 1000, True),
    yaxis3=axis(BOT_Y, "x3", [0, 35], 5, False),
    shapes=shapes, annotations=annotations,
)

fig.write_html("out.html", config={"displayModeBar": False},
               post_script="document.body.style.margin='0';document.body.style.overflow='hidden';")
